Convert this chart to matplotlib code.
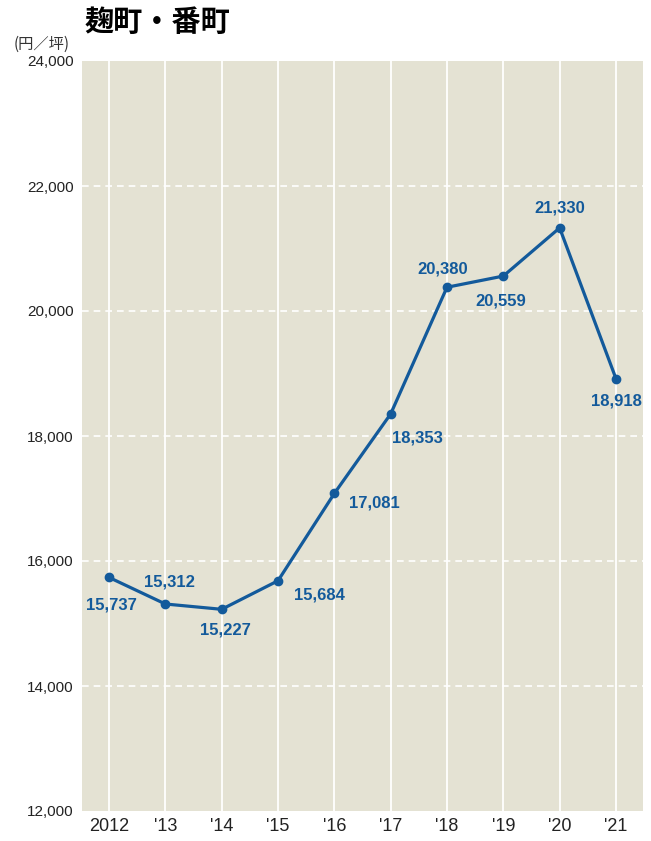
import matplotlib.pyplot as plt
from matplotlib.ticker import FuncFormatter

plt.rcParams['font.family'] = ['Liberation Sans', 'Noto Sans CJK JP', 'DejaVu Sans']

years = ['2012', "'13", "'14", "'15", "'16", "'17", "'18", "'19", "'20", "'21"]
prices = [15737, 15312, 15227, 15684, 17081, 18353, 20380, 20559, 21330, 18918]
# label offsets in points (dx, dy)
offsets = [(2, -20), (3, 16), (3, -15), (30, -10), (29, -7), (19, -17), (-3, 13), (-2, -18), (0, 14), (0, -16)]

line_color = '#135a9b'
bg = '#e4e2d3'

fig = plt.figure(figsize=(6.51, 8.41), dpi=100)
ax = fig.add_axes([82 / 651, 1 - 811 / 841, (643 - 82) / 651, (811 - 61) / 841])
ax.set_facecolor(bg)

x = list(range(len(years)))
ax.plot(x, prices, color=line_color, lw=2.3, marker='o', ms=6, zorder=3)

for xi, v, (dx, dy) in zip(x, prices, offsets):
    ax.annotate(f'{v:,}', (xi, v), xytext=(dx, dy), textcoords='offset points',
                ha='center', va='center', fontsize=12, fontweight='bold',
                color=line_color, zorder=4)

ax.set_xlim(-0.48, 9.48)
ax.set_ylim(12000, 24000)
ax.set_yticks(range(12000, 24001, 2000))
ax.yaxis.set_major_formatter(FuncFormatter(lambda v, p: f'{int(v):,}'))
ax.set_xticks(x)
ax.set_xticklabels(years, fontsize=13)
ax.tick_params(axis='y', length=0, pad=6, labelsize=11, labelcolor='#222222')
ax.tick_params(axis='x', length=0, pad=5, labelcolor='#222222')

for xi in x:
    ax.axvline(xi, color='white', lw=1.3, zorder=1)
for yv in range(14000, 24000, 2000):
    ax.axhline(yv, color='white', lw=1.2, ls=(0, (4, 3)), zorder=1)

for s in ax.spines.values():
    s.set_visible(False)

fig.text(85 / 651, 1 - 22 / 841, '麹町・番町', fontsize=21, fontweight='bold',
         family=['Noto Sans CJK JP'], va='center', ha='left')
fig.text(14 / 651, 1 - 44 / 841, '(円／坪)', fontsize=11,
         family=['Noto Sans CJK JP'], va='center', ha='left', color='#333333')

fig.savefig('out.png', dpi=100)
